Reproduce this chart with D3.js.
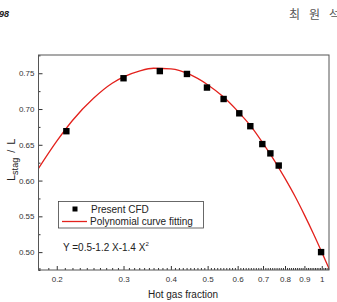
<!DOCTYPE html>
<html><head><meta charset="utf-8">
<script src="https://cdn.jsdelivr.net/npm/d3@7"></script>
<style>
html,body{margin:0;padding:0;background:#fff;overflow:hidden;}
svg{display:block;font-family:"Liberation Sans",Arial,sans-serif;}
</style></head>
<body>
<svg id="c" width="337" height="302"></svg>
<script>
// CFD points
const cfdX = [0.212, 0.300, 0.374, 0.441, 0.498, 0.551, 0.606, 0.648, 0.697, 0.732, 0.770, 0.996];
const cfdY = [0.669, 0.743, 0.753, 0.749, 0.730, 0.714, 0.694, 0.676, 0.651, 0.638, 0.621, 0.500];
// Polynomial curve
const fitX = [0.179, 0.20, 0.22, 0.25, 0.28, 0.30, 0.33, 0.36, 0.40, 0.45, 0.50, 0.55, 0.60, 0.65, 0.70, 0.75, 0.80, 0.85, 0.90, 0.95, 1.00, 1.045];
const fitY = [0.617, 0.655, 0.684, 0.715, 0.736, 0.745, 0.753, 0.757, 0.756, 0.748, 0.734, 0.717, 0.697, 0.676, 0.652, 0.628, 0.603, 0.578, 0.552, 0.526, 0.500, 0.477];
const xTicks = [0.2, 0.3, 0.4, 0.5, 0.6, 0.7, 0.8, 0.9, 1];
const xTickLabels = ["0.2", "0.3", "0.4", "0.5", "0.6", "0.7", "0.8", "0.9", "1"];
const yTicks = [0.50, 0.55, 0.60, 0.65, 0.70, 0.75];
const legendLabels = ["Present CFD", "Polynomial curve fitting"];
const headerChars = ["최", "원", "석"];

const svg = d3.select("#c");
const L = 38.5, R = 329, T = 55, B = 270;
const x = d3.scaleLog().domain([0.179, 1.045]).range([L, R]);
const y = d3.scaleLinear().domain([0.475, 0.7755]).range([B, T]);

// header
svg.append("text").attr("x", -1).attr("y", 17).attr("font-size", 9).attr("font-weight", "bold")
  .attr("font-style", "italic").attr("fill", "#222").text("98");
svg.selectAll("text.hc").data(headerChars).join("text").attr("class", "hc")
  .attr("x", (d, i) => 289 + i * 20).attr("y", 19).attr("font-size", 12)
  .attr("font-family", "Noto Sans CJK KR").attr("fill", "#555").text(d => d);

// minor ticks
const xMinor = d3.range(18, 105).map(d => d / 100).filter(v => v >= 0.18 && v <= 1.04 && !xTicks.some(t => Math.abs(t - v) < 1e-6));
svg.append("g").attr("transform", `translate(0,${B})`)
  .call(d3.axisBottom(x).tickValues(xMinor).tickSize(-2).tickFormat(""))
  .call(g => { g.select(".domain").remove(); g.selectAll("line").attr("stroke", "#333"); });
const yMinor = [0.475, 0.525, 0.575, 0.625, 0.675, 0.725, 0.775];
svg.append("g").attr("transform", `translate(${L},0)`)
  .call(d3.axisLeft(y).tickValues(yMinor).tickSize(-2).tickFormat(""))
  .call(g => { g.select(".domain").remove(); g.selectAll("line").attr("stroke", "#333"); });

// major axes
svg.append("g").attr("transform", `translate(0,${B})`)
  .call(d3.axisBottom(x).tickValues(xTicks).tickSize(-4).tickPadding(6)
    .tickFormat((d, i) => xTickLabels[i]))
  .call(g => { g.select(".domain").remove(); g.selectAll("line").attr("stroke", "#333");
    g.selectAll("text").attr("font-size", 8).attr("fill", "#333").attr("font-family", "Liberation Sans, Arial, sans-serif"); });
svg.append("g").attr("transform", `translate(${L},0)`)
  .call(d3.axisLeft(y).tickValues(yTicks).tickSize(-4).tickPadding(4).tickFormat(d3.format(".2f")))
  .call(g => { g.select(".domain").remove(); g.selectAll("line").attr("stroke", "#333");
    g.selectAll("text").attr("font-size", 8).attr("fill", "#333").attr("font-family", "Liberation Sans, Arial, sans-serif"); });

// clip
svg.append("clipPath").attr("id", "clip").append("rect")
  .attr("x", L).attr("y", T).attr("width", R - L).attr("height", B - T);

// curve
const fit = fitX.map((v, i) => [v, fitY[i]]);
svg.append("path").datum(fit).attr("clip-path", "url(#clip)")
  .attr("fill", "none").attr("stroke", "#e3211c").attr("stroke-width", 1.3)
  .attr("d", d3.line().x(d => x(d[0])).y(d => y(d[1])).curve(d3.curveMonotoneX));

// points
const pts = cfdX.map((v, i) => [v, cfdY[i]]);
svg.append("g").selectAll("rect").data(pts).join("rect")
  .attr("x", d => x(d[0]) - 3.2).attr("y", d => y(d[1]) - 3.2)
  .attr("width", 6.4).attr("height", 6.4).attr("fill", "#000");

// frame
svg.append("rect").attr("x", L).attr("y", T).attr("width", R - L).attr("height", B - T)
  .attr("fill", "none").attr("stroke", "#555").attr("stroke-width", 1);

// legend
const lg = svg.append("g");
lg.append("rect").attr("x", 58.5).attr("y", 201.5).attr("width", 145).attr("height", 26.5)
  .attr("fill", "#fff").attr("stroke", "#444").attr("stroke-width", 0.8);
lg.append("rect").attr("x", 72.5).attr("y", 206.5).attr("width", 5).attr("height", 5).attr("fill", "#000");
lg.append("text").attr("x", 91).attr("y", 212.5).attr("font-size", 10).attr("fill", "#222").text(legendLabels[0]);
lg.append("line").attr("x1", 62).attr("x2", 87).attr("y1", 221.5).attr("y2", 221.5)
  .attr("stroke", "#e3211c").attr("stroke-width", 1.3);
lg.append("text").attr("x", 90).attr("y", 225).attr("font-size", 10).attr("fill", "#222").text(legendLabels[1]);

// equation
const eq = svg.append("text").attr("x", 63).attr("y", 250.5).attr("font-size", 10).attr("fill", "#222");
eq.append("tspan").text("Y =0.5-1.2 X-1.4 X");
eq.append("tspan").attr("font-size", 6).attr("dy", -5).text("2");

// axis titles
svg.append("text").attr("x", 183).attr("y", 297.5).attr("text-anchor", "middle")
  .attr("font-size", 10).attr("fill", "#222").text("Hot gas fraction");
const yt = svg.append("text").attr("transform", "translate(14.5,181) rotate(-90)")
  .attr("font-size", 11).attr("fill", "#222");
yt.append("tspan").text("L");
yt.append("tspan").attr("font-size", 9).attr("dy", 3.5).text("stag");
yt.append("tspan").attr("dy", -3.5).attr("dx", 5).text("/");
yt.append("tspan").attr("dx", 5).text("L");
</script>
</body></html>
